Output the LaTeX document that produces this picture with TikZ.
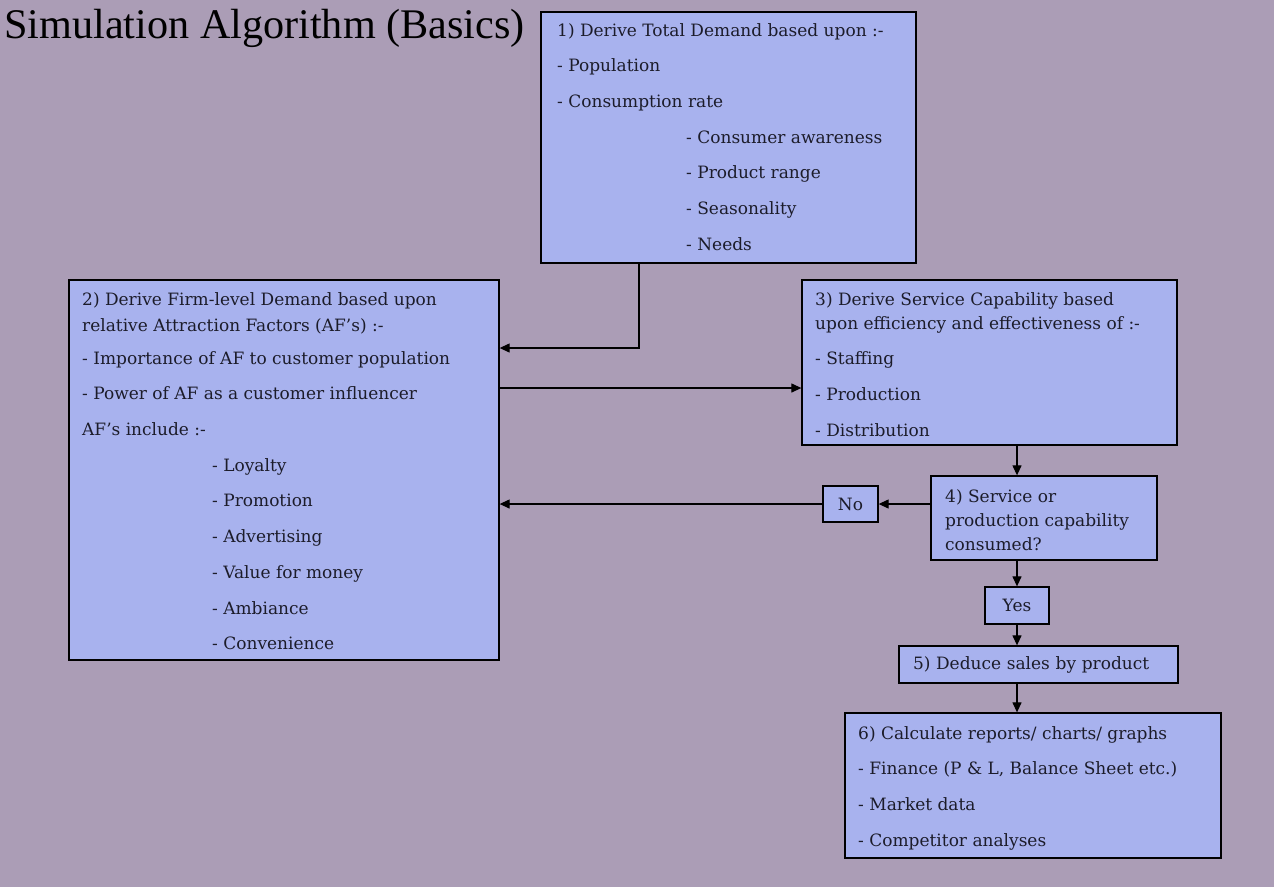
\documentclass[tikz,border=0pt]{standalone}
\usepackage{fontspec}
\setmainfont{DejaVu Serif}
\newfontfamily\titlefont{Liberation Serif}
\usetikzlibrary{arrows.meta}
\definecolor{pagebg}{RGB}{171,157,182}
\definecolor{boxfill}{RGB}{168,178,238}
\definecolor{ink}{RGB}{28,28,42}
\tikzset{
  box/.style={draw=black, line width=1.3pt, fill=boxfill, inner sep=0pt},
  txt/.style={anchor=north west, inner sep=0pt, align=left, text=ink,
              font=\fontsize{17}{35.7}\selectfont},
  lbl/.style={text=ink, font=\fontsize{17}{20}\selectfont},
  arr/.style={draw=black, line width=1.2pt, -{Triangle[length=10pt,width=9pt]}},
}
\begin{document}
\begin{tikzpicture}[x=1pt, y=-1pt]
  % page
  \fill[pagebg] (0,0) rectangle (1274,887);
  \useasboundingbox (0,0) rectangle (1274,887);

  % heading
  \node[anchor=base west, inner sep=0pt, font=\titlefont\fontsize{42.2}{43}\selectfont] (title) at (4,38) {Simulation Algorithm (Basics)};

  % boxes
  \node[box, minimum width=375pt, minimum height=251pt] (b1) at (728.5,137.5) {};
  \node[box, minimum width=430pt, minimum height=380pt] (b2) at (284,470) {};
  \node[box, minimum width=375pt, minimum height=165pt] (b3) at (989.5,362.5) {};
  \node[box, minimum width=226pt, minimum height=84pt] (b4) at (1044,518) {};
  \node[box, lbl, minimum width=55pt, minimum height=36pt] (no) at (850.5,504) {No};
  \node[box, lbl, minimum width=64pt, minimum height=37pt] (yes) at (1017,605.5) {Yes};
  \node[box, lbl, minimum width=279pt, minimum height=37pt, text width=251pt, inner xsep=14pt, align=left] (b5) at (1038.5,664.5) {5) Deduce sales by product};
  \node[box, minimum width=376pt, minimum height=145pt] (b6) at (1033,785.5) {};

  % box texts
  \node[txt] (t1) at (557,23) {1) Derive Total Demand based upon :-\\
    - Population\\
    - Consumption rate\\
    \hspace*{129pt}- Consumer awareness\\
    \hspace*{129pt}- Product range\\
    \hspace*{129pt}- Seasonality\\
    \hspace*{129pt}- Needs};
  \node[txt] (t2) at (82,292) {2) Derive Firm-level Demand based upon\\[-9.7pt]
    relative Attraction Factors (AF’s) :-\\[-2.7pt]
    - Importance of AF to customer population\\
    - Power of AF as a customer influencer\\
    AF’s include :-\\
    \hspace*{130pt}- Loyalty\\
    \hspace*{130pt}- Promotion\\
    \hspace*{130pt}- Advertising\\
    \hspace*{130pt}- Value for money\\
    \hspace*{130pt}- Ambiance\\
    \hspace*{130pt}- Convenience};
  \node[txt] (t3) at (815,292) {3) Derive Service Capability based\\[-11.7pt]
    upon efficiency and effectiveness of :-\\
    - Staffing\\
    - Production\\
    - Distribution};
  \node[txt] (t4) at (945,489) {4) Service or\\[-11.7pt]
    production capability\\[-11.7pt]
    consumed?};
  \node[txt] (t6) at (858,726) {6) Calculate reports/ charts/ graphs\\
    - Finance (P \& L, Balance Sheet etc.)\\
    - Market data\\
    - Competitor analyses};

  % connector junctions
  \coordinate (j1) at (639,348);
  \coordinate (j2) at (0,388);
  \coordinate (j3) at (1017,0);

  % connectors
  \draw[arr] (b1.south -| j1) -- (j1) -- (j1 -| b2.east);
  \draw[arr] (j2 -| b2.east) -- (j2 -| b3.west);
  \draw[arr] (b3.south -| j3) -- (b4.north -| j3);
  \draw[arr] (b4.west |- no.east) -- (no.east);
  \draw[arr] (no.west) -- (no.west -| b2.east);
  \draw[arr] (b4.south -| j3) -- (yes.north);
  \draw[arr] (yes.south) -- (b5.north -| j3);
  \draw[arr] (b5.south -| j3) -- (b6.north -| j3);
\end{tikzpicture}
\end{document}
